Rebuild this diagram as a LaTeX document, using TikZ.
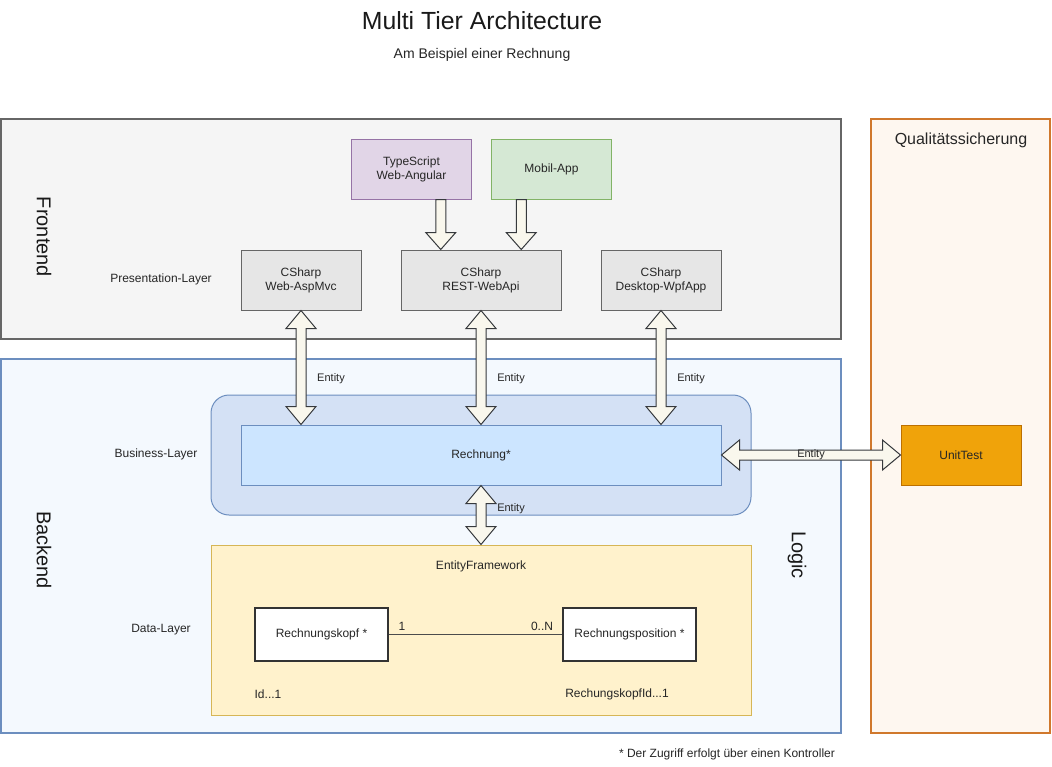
\documentclass[tikz,border=0pt]{standalone}
\usepackage{fontspec}
\setmainfont{Liberation Sans}
\usepackage{tikz}
\usetikzlibrary{calc}
\definecolor{frontfill}{HTML}{F5F5F5}
\definecolor{frontline}{HTML}{666666}
\definecolor{csfill}{HTML}{E6E6E6}
\definecolor{tsfill}{HTML}{E1D5E7}
\definecolor{tsline}{HTML}{9673A6}
\definecolor{mobfill}{HTML}{D5E8D4}
\definecolor{mobline}{HTML}{82B366}
\definecolor{backfill}{HTML}{F4F9FE}
\definecolor{blueline}{HTML}{6C8EBF}
\definecolor{bizfill}{HTML}{D4E1F5}
\definecolor{rechfill}{HTML}{CCE5FF}
\definecolor{qsfill}{HTML}{FEF7F0}
\definecolor{qsline}{HTML}{D0782C}
\definecolor{utfill}{HTML}{F0A30A}
\definecolor{utline}{HTML}{BD7000}
\definecolor{effill}{HTML}{FFF2CC}
\definecolor{efline}{HTML}{D6B656}
\definecolor{arrowfill}{HTML}{F9F7ED}
\definecolor{arrowline}{HTML}{36393D}
\tikzstyle{area}=[draw, rectangle, line width=1.2pt, inner sep=0pt]
\tikzstyle{box}=[draw, rectangle, line width=1pt, inner sep=2pt, align=center, text=black!85, font=\fontsize{12}{14}\selectfont]
\tikzstyle{entity}=[draw=black!80, fill=white, rectangle, line width=1.3pt, inner sep=0pt, minimum width=133pt, minimum height=53pt, text=black!85, font=\fontsize{12}{14}\selectfont]
\tikzstyle{lbl}=[inner sep=1pt, text=black!85, font=\fontsize{12}{14}\selectfont]
\tikzstyle{small}=[inner sep=1pt, text=black!85, font=\fontsize{11}{13}\selectfont]
\tikzstyle{side}=[inner sep=0pt, rotate=-90, text=black!90, font=\fontsize{20}{24}\selectfont]
\tikzstyle{blockarrow}=[draw=arrowline, fill=arrowfill, line width=1pt, line join=miter]
% block arrows between two anchors
\newcommand{\dblarrowv}[2]{%
  \draw[blockarrow] let \p1=(#1), \p2=(#2) in
    (\x1,\y1) -- (\x1+15pt,\y1-18pt) -- (\x1+5pt,\y1-18pt) -- (\x1+5pt,\y2+18pt)
    -- (\x1+15pt,\y2+18pt) -- (\x1,\y2) -- (\x1-15pt,\y2+18pt) -- (\x1-5pt,\y2+18pt)
    -- (\x1-5pt,\y1-18pt) -- (\x1-15pt,\y1-18pt) -- cycle;}
\newcommand{\dblarrowh}[2]{%
  \draw[blockarrow] let \p1=(#1), \p2=(#2) in
    (\x1,\y1) -- (\x1+18pt,\y1+15pt) -- (\x1+18pt,\y1+5pt) -- (\x2-18pt,\y1+5pt)
    -- (\x2-18pt,\y1+15pt) -- (\x2,\y1) -- (\x2-18pt,\y1-15pt) -- (\x2-18pt,\y1-5pt)
    -- (\x1+18pt,\y1-5pt) -- (\x1+18pt,\y1-15pt) -- cycle;}
\newcommand{\downarrowblk}[2]{%
  \draw[blockarrow] let \p1=(#1), \p2=(#2) in
    (\x1-5pt,\y1) -- (\x1+5pt,\y1) -- (\x1+5pt,\y2+17pt) -- (\x1+15pt,\y2+17pt)
    -- (\x1,\y2) -- (\x1-15pt,\y2+17pt) -- (\x1-5pt,\y2+17pt) -- cycle;}

\begin{document}
\begin{tikzpicture}[x=1pt, y=-1pt]
    \useasboundingbox[fill=white] (0,0) rectangle (1052,766);

    \node[text=black!90, font=\fontsize{24.8}{28}\selectfont] (title) at (482,21) {Multi Tier Architecture};
    \node[lbl, font=\fontsize{14}{16}\selectfont] (subtitle) at (482,55) {Am Beispiel einer Rechnung};

    % layers
    \node[area, draw=frontline, fill=frontfill, minimum width=840pt, minimum height=220pt] (frontend) at (421,229) {};
    \node[area, draw=blueline, fill=backfill, line width=1.6pt, minimum width=840pt, minimum height=374pt] (backend) at (421,546) {};
    \node[area, draw=qsline, fill=qsfill, line width=1.6pt, minimum width=179pt, minimum height=614pt] (qs) at (960.5,426) {};
    \node[lbl, font=\fontsize{16}{19}\selectfont] (qstext) at (961,140) {Qualitätssicherung};
    \node[side] (fronttext) at (44,237) {Frontend};
    \node[side] (backtext) at (44,550) {Backend};
    \node[side] (logictext) at (797,555) {Logic};
    \node[lbl] (presentation) at (161,279) {Presentation-Layer};
    \node[lbl] (businesstext) at (156,454) {Business-Layer};
    \node[lbl] (datatext) at (161,630) {Data-Layer};

    % presentation
    \node[box, draw=tsline, fill=tsfill, minimum width=120pt, minimum height=60pt] (tsweb) at (411.5,169) {TypeScript\\Web-Angular};
    \node[box, draw=mobline, fill=mobfill, minimum width=120pt, minimum height=60pt] (mobil) at (551.5,169) {Mobil-App};
    \node[box, draw=frontline, fill=csfill, minimum width=120pt, minimum height=60pt] (aspmvc) at (301,280) {CSharp\\Web-AspMvc};
    \node[box, draw=frontline, fill=csfill, minimum width=160pt, minimum height=60pt] (webapi) at (481,280) {CSharp\\REST-WebApi};
    \node[box, draw=frontline, fill=csfill, minimum width=120pt, minimum height=60pt] (wpfapp) at (661,280) {CSharp\\Desktop-WpfApp};

    % business
    \node[area, draw=blueline, fill=bizfill, line width=1pt, rounded corners=18pt, minimum width=540pt, minimum height=120pt] (business) at (481,455) {};
    \node[box, draw=blueline, fill=rechfill, minimum width=480pt, minimum height=60pt] (rechnung) at (481,455) {Rechnung*};
    \node[box, draw=utline, fill=utfill, minimum width=120pt, minimum height=60pt] (unittest) at (961,455) {UnitTest};

    % data
    \node[area, draw=efline, fill=effill, line width=1pt, minimum width=540pt, minimum height=170pt] (ef) at (481,630) {};
    \node[lbl] (eftext) at (481,566) {EntityFramework};
    \node[entity] (kopf) at (321.5,634.5) {Rechnungskopf *};
    \node[entity] (position) at (629.5,634.5) {Rechnungsposition *};
    \draw[draw=black!70, line width=1.6pt] (kopf) -- (position);
    \node[lbl] (one) at (402,626) {1};
    \node[lbl] (many) at (542,626) {0..N};
    \node[lbl] (kopfid) at (268,694) {Id...1};
    \node[lbl] (posid) at (617,694) {RechungskopfId...1};

    % connectors
    \coordinate (tsin) at ($(webapi.north west)!0.25!(webapi.north east)$);
    \coordinate (mobin) at ($(webapi.north west)!0.75!(webapi.north east)$);
    \downarrowblk{tsin |- tsweb.south}{tsin}
    \downarrowblk{mobin |- mobil.south}{mobin}
    \dblarrowv{aspmvc.south}{aspmvc.south |- rechnung.north}
    \dblarrowv{webapi.south}{webapi.south |- rechnung.north}
    \dblarrowv{wpfapp.south}{wpfapp.south |- rechnung.north}
    \dblarrowv{rechnung.south}{ef.north}
    \dblarrowh{rechnung.east}{unittest.west}
    \node[small] (entity1) at (331,379) {Entity};
    \node[small] (entity2) at (511,379) {Entity};
    \node[small] (entity3) at (691,379) {Entity};
    \node[small] (entity4) at (811,455) {Entity};
    \node[small] (entity5) at (511,509) {Entity};

    \node[lbl] (note) at (727,754) {* Der Zugriff erfolgt über einen Kontroller};
\end{tikzpicture}
\end{document}
